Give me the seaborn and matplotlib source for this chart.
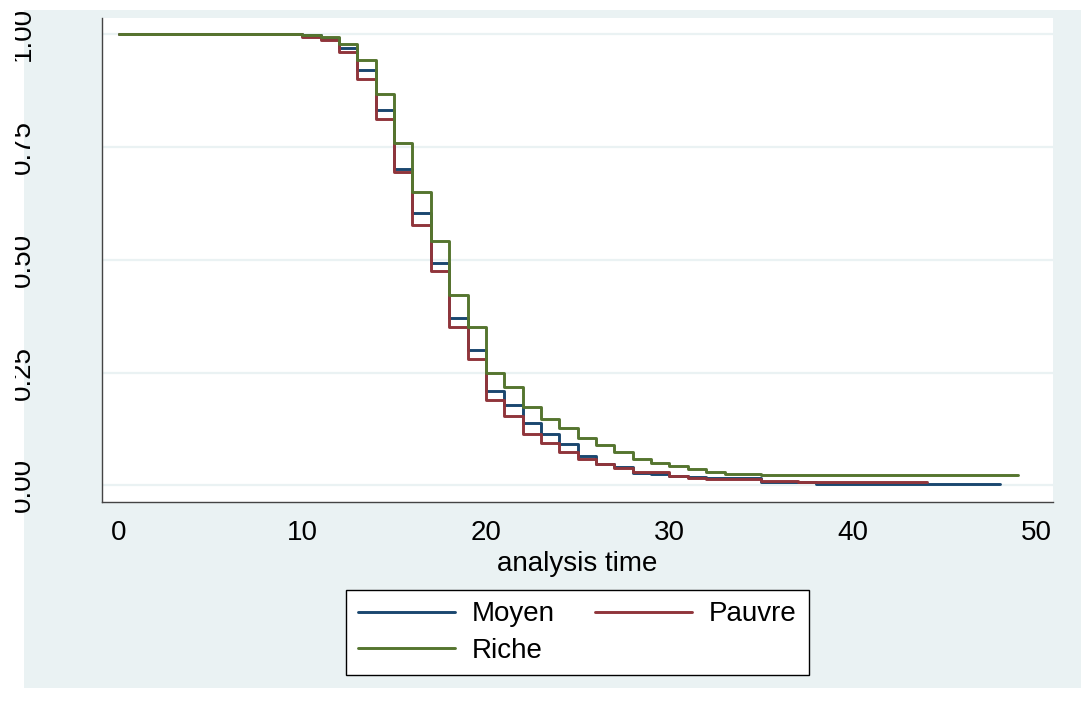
import matplotlib
matplotlib.use("Agg")
import pandas as pd
import matplotlib.pyplot as plt
from matplotlib.patches import Rectangle
import seaborn as sns

# ----------------------------------------
# Kaplan-Meier estimates (step after each time)
# ----------------------------------------
groups = ["Moyen", "Pauvre", "Riche"]

time_moyen = [0, 10, 11, 12, 13, 14, 15, 16, 17, 18, 19, 20, 21, 22, 23, 24,
              25, 26, 27, 28, 29, 30, 31, 32, 35, 38, 48]
surv_moyen = [1.0, 0.998, 0.991, 0.970, 0.920, 0.832, 0.702, 0.603, 0.493, 0.372,
              0.300, 0.210, 0.179, 0.138, 0.114, 0.092, 0.064, 0.048, 0.041, 0.028,
              0.024, 0.021, 0.018, 0.016, 0.0074, 0.0038, 0.0038]

time_pauvre = [0, 10, 11, 12, 13, 14, 15, 16, 17, 18, 19, 20, 21, 22, 23, 24,
               25, 26, 27, 28, 30, 31, 32, 33, 35, 36, 37, 44]
surv_pauvre = [1.0, 0.994, 0.987, 0.961, 0.902, 0.813, 0.695, 0.578, 0.475, 0.350,
               0.281, 0.189, 0.153, 0.114, 0.093, 0.073, 0.058, 0.047, 0.039, 0.030,
               0.021, 0.016, 0.014, 0.013, 0.0105, 0.0085, 0.0074, 0.0074]

time_riche = [0, 10, 11, 12, 13, 14, 15, 16, 17, 18, 19, 20, 21, 22, 23, 24,
              25, 26, 27, 28, 29, 30, 31, 32, 33, 35, 37, 49]
surv_riche = [1.0, 0.998, 0.993, 0.979, 0.942, 0.867, 0.759, 0.650, 0.542, 0.422,
              0.352, 0.250, 0.217, 0.174, 0.147, 0.126, 0.104, 0.090, 0.074, 0.059,
              0.049, 0.042, 0.036, 0.030, 0.026, 0.0237, 0.022, 0.022]

x_ticks = [0, 10, 20, 30, 40, 50]
y_ticks = [0.0, 0.25, 0.5, 0.75, 1.0]
y_ticklabels = ["0.00", "0.25", "0.50", "0.75", "1.00"]

colors = {"Moyen": "#1A476F", "Pauvre": "#90353B", "Riche": "#55752F"}
bg = "#EAF2F3"

df = pd.concat([
    pd.DataFrame({"time": time_moyen, "surv": surv_moyen, "group": "Moyen"}),
    pd.DataFrame({"time": time_pauvre, "surv": surv_pauvre, "group": "Pauvre"}),
    pd.DataFrame({"time": time_riche, "surv": surv_riche, "group": "Riche"}),
], ignore_index=True)

# ----------------------------------------
# Figure / Stata-like layout
# ----------------------------------------
sns.set_style("white")
plt.rcParams["font.family"] = ["Liberation Sans", "DejaVu Sans"]
plt.rcParams["text.color"] = "black"

FS = 20
W, H = 1081, 713
fig = plt.figure(figsize=(W / 100, H / 100), dpi=100)
fig.patch.set_facecolor("white")
fig.add_artist(Rectangle((24 / W, 1 - 688 / H), 1 - 24 / W, (688 - 10) / H,
                         transform=fig.transFigure, facecolor=bg,
                         edgecolor="none", zorder=-5))

ax = fig.add_axes([101.7 / W, 1 - 502.3 / H, (1053 - 101.7) / W, (502.3 - 18.3) / H])
ax.set_facecolor("white")

sns.lineplot(data=df, x="time", y="surv", hue="group", hue_order=groups,
             palette=colors, estimator=None, errorbar=None,
             drawstyle="steps-post", linewidth=2.1, legend=False, ax=ax, zorder=3)

ax.set_xlim(-0.926, 50.89)
ax.set_ylim(-0.0377, 1.0355)
ax.set_xticks(x_ticks)
ax.set_yticks(y_ticks)
ax.set_yticklabels(y_ticklabels, rotation=90, va="center")
ax.tick_params(axis="both", direction="out", length=7.5, width=0.8,
               color="#444444", labelsize=FS, labelcolor="black")
ax.tick_params(axis="y", pad=40)
ax.tick_params(axis="x", pad=5)
ax.yaxis.grid(True, color=bg, linewidth=1.6, zorder=0)
ax.xaxis.grid(False)
ax.set_axisbelow(True)

for side in ["top", "right"]:
    ax.spines[side].set_visible(False)
for side in ["left", "bottom"]:
    ax.spines[side].set_color("#444444")
    ax.spines[side].set_linewidth(1.0)

ax.set_xlabel("analysis time", fontsize=FS, labelpad=4, color="black")
ax.set_ylabel("")

# legend in Stata row order: Moyen, Pauvre / Riche
lines = ax.get_lines()
handles = [lines[0], lines[2], lines[1]]
labels = ["Moyen", "Riche", "Pauvre"]
leg = ax.legend(handles, labels, ncol=2, loc="center",
                bbox_to_anchor=(577.5 / W, 1 - 632.5 / H),
                bbox_transform=fig.transFigure, fontsize=FS,
                frameon=True, fancybox=False, edgecolor="black", framealpha=1,
                handlelength=3.5, handletextpad=0.6, columnspacing=1.45,
                labelspacing=0.37, borderpad=0.42)
leg.get_frame().set_linewidth(1.0)
leg.get_frame().set_facecolor("white")

# the reference picture is cut off at the left edge
fig.add_artist(Rectangle((0, 0), 15 / W, 1, transform=fig.transFigure,
                         facecolor="white", edgecolor="none", zorder=10))

fig.savefig("out.png", dpi=100)
